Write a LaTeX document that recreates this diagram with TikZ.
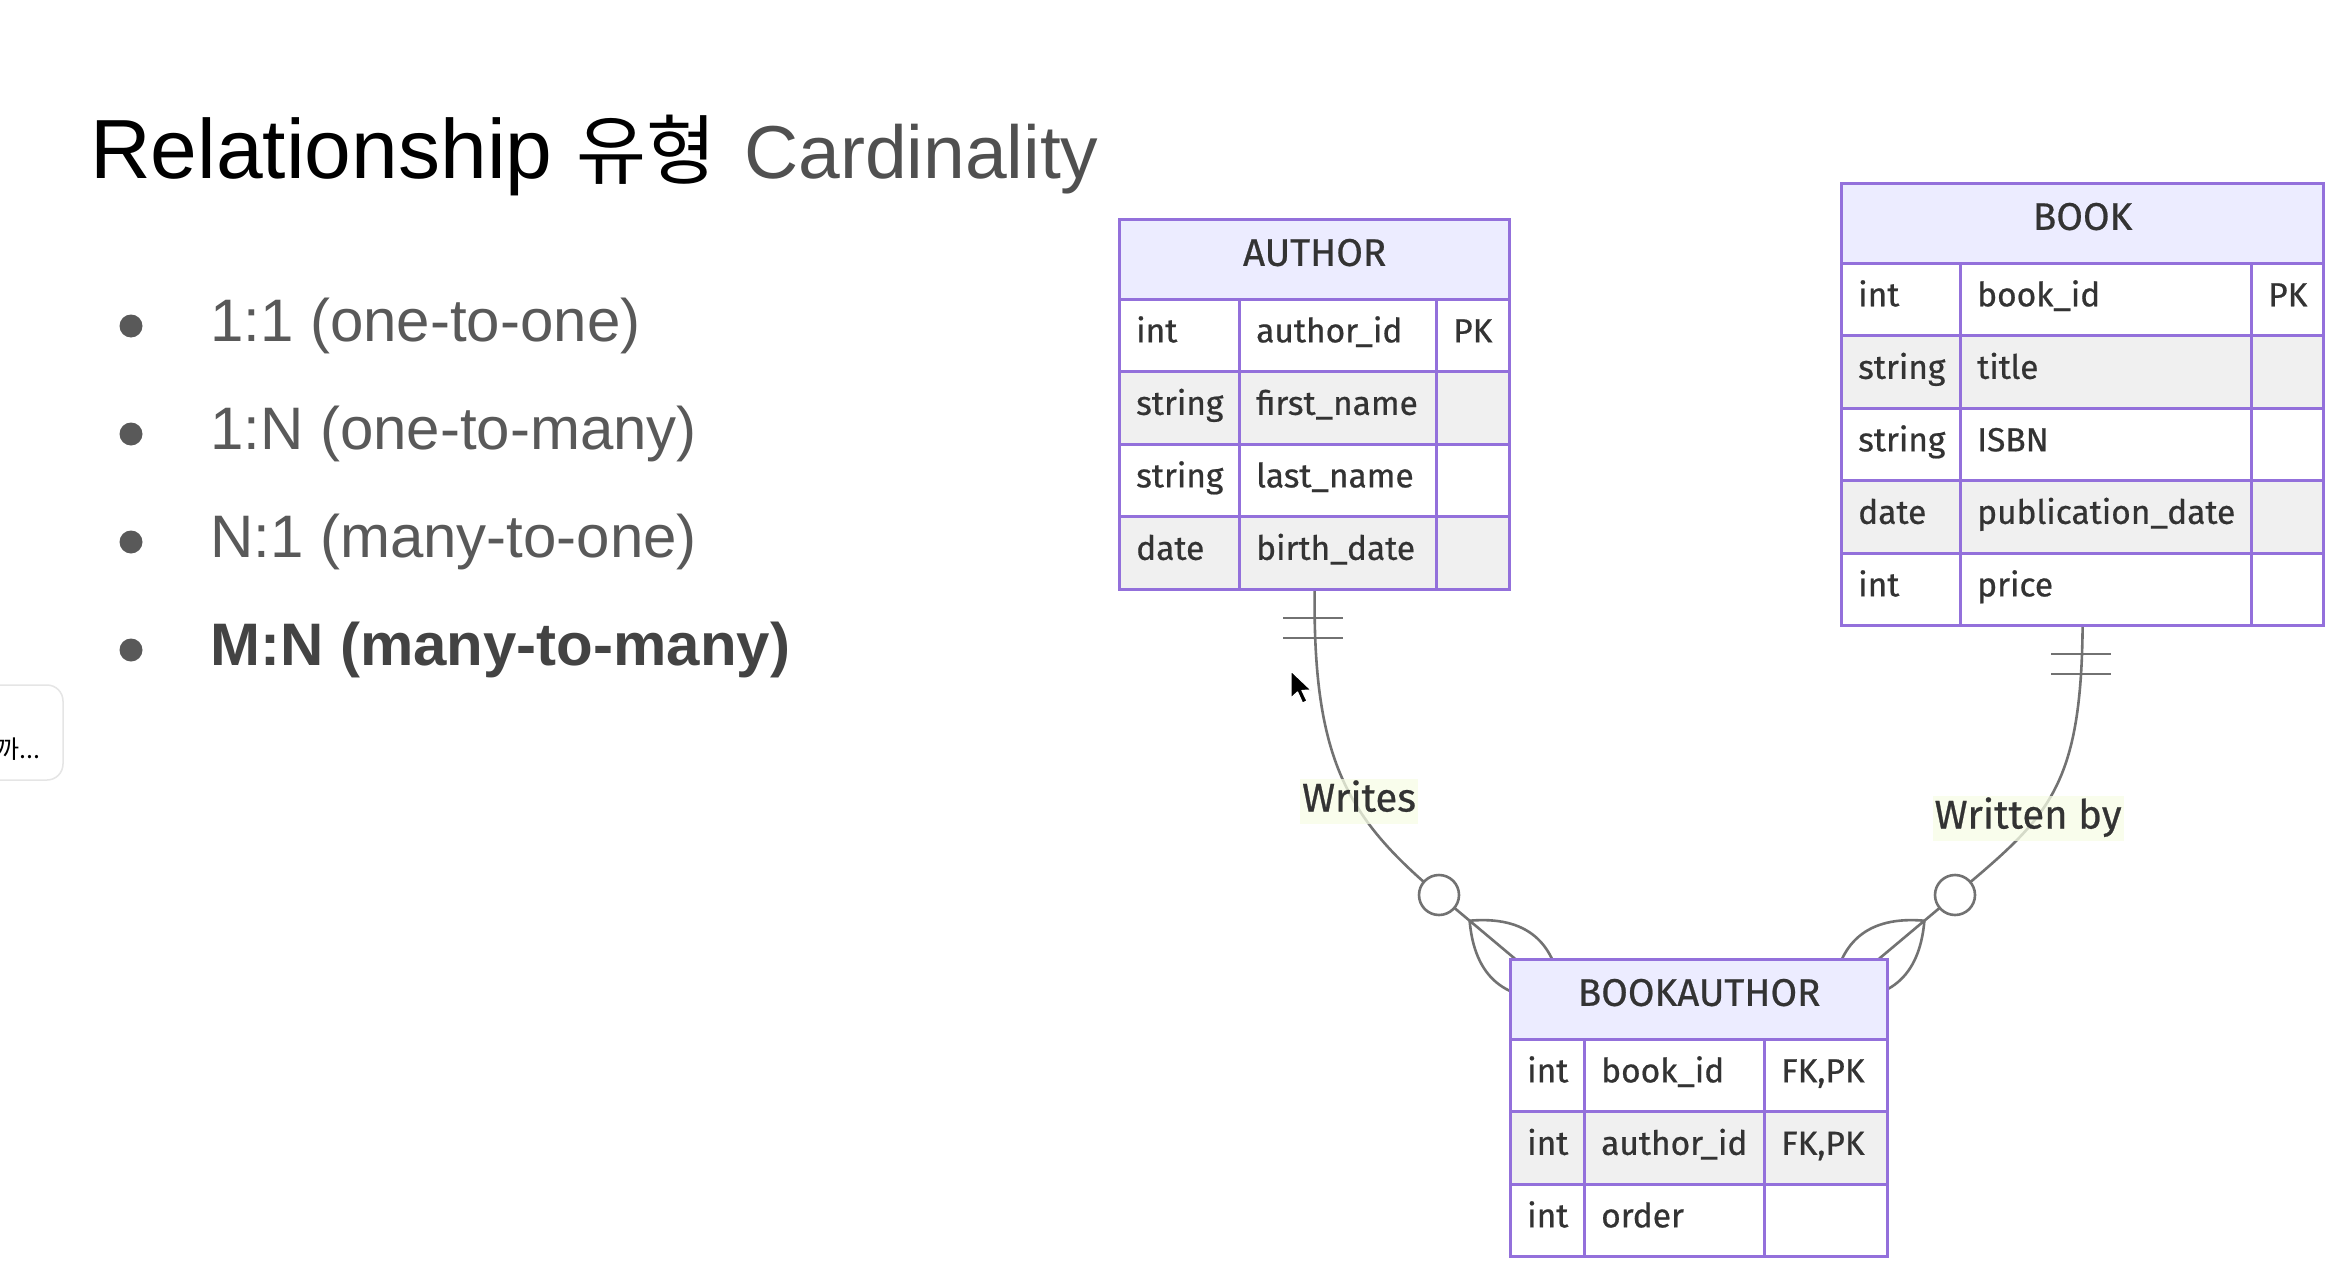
\documentclass[tikz,border=0pt]{standalone}
\usepackage{fontspec}
\setmainfont{Liberation Sans}
\newfontfamily\erfont{Fira Sans}[FakeBold=0.6]
\newfontfamily\krfont{Noto Sans CJK KR}
\usetikzlibrary{calc}
\pgfdeclarelayer{back}
\pgfdeclarelayer{bg}
\pgfsetlayers{back,bg,main}

\definecolor{erline}{HTML}{9370DB}
\definecolor{erhead}{HTML}{ECECFF}
\definecolor{eralt}{HTML}{F0F0F0}
\definecolor{ertext}{HTML}{333333}
\definecolor{relline}{HTML}{727272}
\definecolor{lblbg}{HTML}{F7FDE6}
\definecolor{slidegray}{HTML}{595959}
\definecolor{boldgray}{HTML}{434343}
\definecolor{titlegray}{HTML}{505050}

\tikzset{
  cellbox/.style={draw=erline, line width=3.2pt, inner sep=0pt, anchor=north west, minimum height=72.5pt},
  headbox/.style={draw=erline, fill=erhead, line width=3.2pt, inner sep=0pt, anchor=north west, minimum height=79.5pt},
  framebox/.style={draw=erline, line width=3.2pt, inner sep=0pt, anchor=north west},
  headtext/.style={font=\erfont\fontsize{38.5}{44}\selectfont, text=ertext, inner sep=0pt, text height=20pt, text depth=7pt},
  celltext/.style={font=\erfont\fontsize{33.5}{40}\selectfont, text=ertext, inner sep=0pt, text height=21pt, text depth=7pt, anchor=west},
  rel/.style={draw=relline, line width=2.6pt},
  crow/.style={circle, draw=relline, fill=white, line width=2.6pt, minimum size=40pt, inner sep=0pt},
  lbl/.style={font=\erfont\fontsize{40}{46}\selectfont, text=ertext, fill=lblbg, fill opacity=0.75, text opacity=1, inner xsep=2pt, inner ysep=3pt, text height=30pt, text depth=9pt},
  itemtext/.style={font=\fontsize{60}{68}\selectfont, text=slidegray, anchor=base west, inner sep=0pt},
  dot/.style={circle, fill=slidegray, minimum size=23pt, inner sep=0pt},
}

% column left edges and widths of the current table
\newcommand\ersetcols[6]{\def\erxa{#1}\def\erxb{#2}\def\erxc{#3}\def\erwa{#4pt}\def\erwb{#5pt}\def\erwc{#6pt}}
% one attribute row: prefix, row no, top y, fill, type, name, key
\newcommand\errow[7]{%
  \node[cellbox, fill=#4, minimum width=\erwa] (#1-#2-type) at (\erxa,#3) {};
  \node[cellbox, fill=#4, minimum width=\erwb] (#1-#2-name) at (\erxb,#3) {};
  \node[cellbox, fill=#4, minimum width=\erwc] (#1-#2-key) at (\erxc,#3) {};
  \node[celltext] (#1-#2-typet) at ([xshift=18pt]#1-#2-type.west) {#5};
  \node[celltext] (#1-#2-namet) at ([xshift=18pt]#1-#2-name.west) {#6};
  \node[celltext] (#1-#2-keyt) at ([xshift=18pt]#1-#2-key.west) {#7};
}

\begin{document}
\begin{tikzpicture}[x=1pt, y=-1pt]
\useasboundingbox (0,0) rectangle (2350,1276);
\clip (0,0) rectangle (2350,1276);
\begin{pgfonlayer}{back}
  \fill[white] (0,0) rectangle (2350,1276);
\end{pgfonlayer}

% ---------- slide text ----------
\node[anchor=base west, inner sep=0pt, font=\fontsize{84}{92}\selectfont, text=black] (title) at (90,179) {Relationship};
\node[anchor=base west, inner sep=0pt, font=\krfont\fontsize{76}{82}\selectfont, text=black] (titlekr) at (576,179) {유형};
\node[anchor=base west, inner sep=0pt, font=\fontsize{75}{82}\selectfont, text=titlegray] (titlecard) at (744,179) {Cardinality};

\node[dot] (dot1) at (131,326) {};
\node[itemtext] (item1) at (210,341) {1:1 (one-to-one)};
\node[dot] (dot2) at (131,434) {};
\node[itemtext] (item2) at (210,449) {1:N (one-to-many)};
\node[dot] (dot3) at (131,542) {};
\node[itemtext] (item3) at (210,557) {N:1 (many-to-one)};
\node[dot] (dot4) at (131,650) {};
\node[itemtext, font=\bfseries\fontsize{60}{68}\selectfont, text=boldgray] (item4) at (210,665) {M:N (many-to-many)};

% small popup at the left edge
\draw[draw=black!10, fill=white, line width=1.5pt, rounded corners=16pt] (-40,685) rectangle (63,780);
\node[anchor=base east, inner sep=0pt, font=\krfont\fontsize{25}{30}\selectfont, text=black] (popup) at (41,758) {까...};

% ---------- entity AUTHOR ----------
\node[headbox, minimum width=390pt] (author-h) at (1118,218) {};
\node[headtext] (author-ht) at (author-h) {AUTHOR};
\ersetcols{1118}{1238}{1435}{120}{197}{73}
\errow{author}{1}{297.5}{white}{int}{author\_id}{PK}
\errow{author}{2}{370}{eralt}{string}{first\_name}{}
\errow{author}{3}{442.5}{white}{string}{last\_name}{}
\errow{author}{4}{515}{eralt}{date}{birth\_date}{}
\node[framebox, minimum width=390pt, minimum height=369.5pt] (author) at (1118,218) {};

% ---------- entity BOOK ----------
\node[headbox, minimum width=482pt] (book-h) at (1840,182) {};
\node[headtext] (book-ht) at (book-h) {BOOK};
\ersetcols{1840}{1959}{2250}{119}{291}{72}
\errow{book}{1}{261.5}{white}{int}{book\_id}{PK}
\errow{book}{2}{334}{eralt}{string}{title}{}
\errow{book}{3}{406.5}{white}{string}{ISBN}{}
\errow{book}{4}{479}{eralt}{date}{publication\_date}{}
\errow{book}{5}{551.5}{white}{int}{price}{}
\node[framebox, minimum width=482pt, minimum height=442pt] (book) at (1840,182) {};

% ---------- entity BOOKAUTHOR ----------
\node[headbox, minimum width=377pt] (ba-h) at (1509,958) {};
\node[headtext] (ba-ht) at (ba-h) {BOOKAUTHOR};
\ersetcols{1509}{1583}{1763}{74}{180}{123}
\errow{ba}{1}{1037.5}{white}{int}{book\_id}{FK,PK}
\errow{ba}{2}{1110}{eralt}{int}{author\_id}{FK,PK}
\errow{ba}{3}{1182.5}{white}{int}{order}{}
\node[framebox, minimum width=377pt, minimum height=297pt] (bookauthor) at (1509,958) {};

% ---------- relationships (behind the tables) ----------
% zero-or-more ends inside BOOKAUTHOR
\coordinate (wtip) at (1561.6,997.9);
\coordinate (wapex) at (1469.6,920.7);
\coordinate (btip) at (1832.4,997.9);
\coordinate (bapex) at (1924.4,920.7);

\begin{pgfonlayer}{bg}
  % AUTHOR ||--o{ BOOKAUTHOR
  \draw[rel] (author.south) .. controls (1313,760) and (1347.1,817.8) .. (1439,895) -- (wtip);
  \draw[rel] (1283,618) -- (1343,618) (1283,638) -- (1343,638);
  \draw[rel] (wapex) .. controls (1526,915.8) and (1556.7,941.5) .. (wtip);
  \draw[rel] (wapex) .. controls (1474.5,977.1) and (1505.2,1002.8) .. (wtip);
  \node[crow] (wcirc) at (1439,895) {};

  % BOOK ||--o{ BOOKAUTHOR
  \draw[rel] (book.south) .. controls (2081,790) and (2046.9,817.8) .. (1955,895) -- (btip);
  \draw[rel] (2051,654) -- (2111,654) (2051,674) -- (2111,674);
  \draw[rel] (bapex) .. controls (1868,915.8) and (1837.3,941.5) .. (btip);
  \draw[rel] (bapex) .. controls (1919.5,977.1) and (1888.8,1002.8) .. (btip);
  \node[crow] (bcirc) at (1955,895) {};
\end{pgfonlayer}

% relationship labels
\node[lbl] (writes) at (1359,801) {Writes};
\node[lbl] (writtenby) at (2028,818) {Written by};

% mouse pointer
\filldraw[fill=black, draw=white, line width=1.2pt, line join=round]
  (1291,671) -- ++(0,27) -- ++(6.5,-6) -- ++(5,11) -- ++(4.5,-2) -- ++(-5,-10.5) -- ++(9,-0.5) -- cycle;
\end{tikzpicture}
\end{document}
